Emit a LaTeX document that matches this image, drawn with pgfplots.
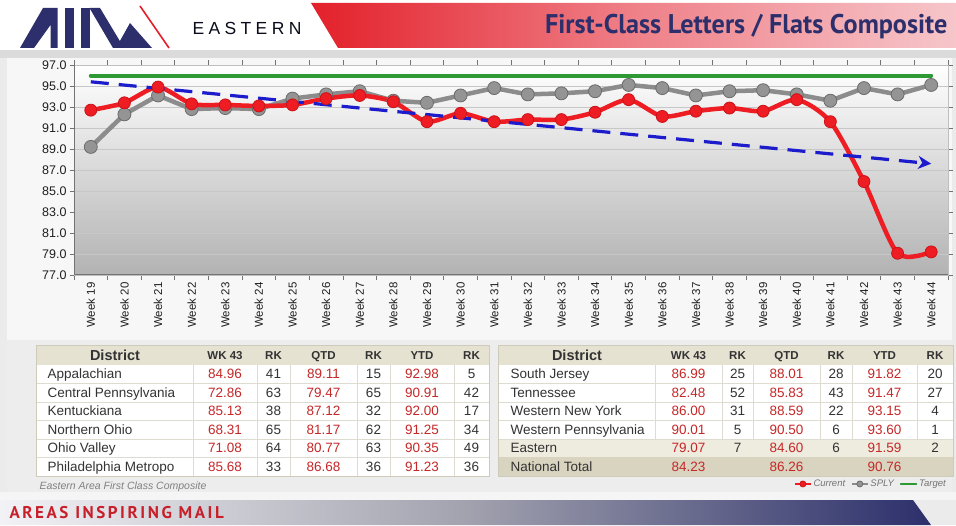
\documentclass[border=0pt]{standalone}
\usepackage{pgfplots}
\pgfplotsset{compat=1.18}
\usepackage{fontspec}
\setmainfont{Liberation Sans}
\newfontfamily\titlefont[FakeStretch=0.97]{PT Sans}
\newfontfamily\eastfont[LetterSpace=25]{Liberation Sans}
\newfontfamily\footfont[LetterSpace=15]{PT Sans}
\usetikzlibrary{arrows.meta}

\definecolor{navy}{HTML}{2C2F6B}
\definecolor{curred}{HTML}{EE1D23}
\definecolor{curedge}{HTML}{C8141A}
\definecolor{valred}{HTML}{C62828}
\definecolor{splyline}{HTML}{8C8C8C}
\definecolor{splymark}{HTML}{949494}
\definecolor{splyedge}{HTML}{6B6B6B}
\definecolor{targetgreen}{HTML}{2E9A34}
\definecolor{trendblue}{HTML}{1C1CCC}
\definecolor{hdrbeige}{HTML}{E6E2D2}
\definecolor{eastbeige}{HTML}{EEEBDF}
\definecolor{natbeige}{HTML}{D9D4BF}
\definecolor{tborder}{HTML}{CFCBBA}
\definecolor{tgrid}{HTML}{DEDBD0}
\definecolor{txt}{HTML}{333333}
\definecolor{bannerred}{HTML}{E3202A}
\definecolor{bannermid}{HTML}{EF8088}
\definecolor{bannerpink}{HTML}{F6C6CA}
\definecolor{footred}{HTML}{C8202A}

\newcommand\fs[1]{\fontsize{#1}{#1}\selectfont}

% row: #1 baseline y, #2 name x, #3 name, #4..#9 values
\newcommand\trow[9]{%
  \node[anchor=base west,text=txt,font=\fs{13.5}] at (#2,#1) {#3};
  \node[anchor=base,text=valred,font=\fs{13.5}] at (\cA,#1) {#4};
  \node[anchor=base,text=txt,font=\fs{13.5}] at (\cB,#1) {#5};
  \node[anchor=base,text=valred,font=\fs{13.5}] at (\cC,#1) {#6};
  \node[anchor=base,text=txt,font=\fs{13.5}] at (\cD,#1) {#7};
  \node[anchor=base,text=valred,font=\fs{13.5}] at (\cE,#1) {#8};
  \node[anchor=base,text=txt,font=\fs{13.5}] at (\cF,#1) {#9};
}
\newcommand\thead[1]{%
  \node[anchor=base,text=txt,font=\bfseries\fs{14.5}] at (#1,360.2) {District};
  \node[anchor=base,text=txt,font=\bfseries\fs{11.5}] at (\cA,359.2) {WK 43};
  \node[anchor=base,text=txt,font=\bfseries\fs{11.5}] at (\cB,359.2) {RK};
  \node[anchor=base,text=txt,font=\bfseries\fs{11.5}] at (\cC,359.2) {QTD};
  \node[anchor=base,text=txt,font=\bfseries\fs{11.5}] at (\cD,359.2) {RK};
  \node[anchor=base,text=txt,font=\bfseries\fs{11.5}] at (\cE,359.2) {YTD};
  \node[anchor=base,text=txt,font=\bfseries\fs{11.5}] at (\cF,359.2) {RK};
}

\begin{document}
\begin{tikzpicture}
\path[use as bounding box] (0,0) rectangle (956pt,525pt);
\fill[black!8] (0,0) rectangle (956pt,525pt);
\begin{scope}[yshift=525pt, x=1pt, y=-1pt]
  % header
  \fill[white] (0,0) rectangle (956,50);
  \fill[black!14] (0,50) rectangle (956,58);
  \fill[black!3] (7,58) rectangle (952,340);
  \fill[black!7] (7,340) rectangle (952,492);
  \fill[white!96!black] (0,492) rectangle (956,500);
  % banner
  \shade[left color=bannerred, right color=bannerpink, middle color=bannermid]
    (311,3) -- (956,3) -- (956,48) -- (338,48) -- cycle;
  \node[anchor=base east, text=navy, font=\titlefont\bfseries\fs{27}] at (951,34) {First-Class Letters / Flats Composite};
  % logo
  \fill[navy] (20,48) -- (43,8) -- (57.5,8) -- (57.5,48) -- (50.5,48) -- (50.5,25) -- (34,48) -- cycle;
  \fill[navy] (64.5,8) rectangle (73.5,48);
  \fill[navy] (80.5,8) rectangle (89.5,48);
  \fill[navy] (89.5,8) -- (100,8) -- (124,48) -- (113,48) -- cycle;
  \fill[navy] (116,48) -- (130,23) -- (152,48) -- cycle;
  \draw[bannerred, line width=1.6pt] (140,6) -- (169,48);
  \node[anchor=base west, text=black!75!navy, font=\eastfont\fs{17.5}] at (189,35) {EASTERN};
  % footer
  \shade[left color=white!94!navy, right color=navy, middle color=black!25!white!80!navy]
    (0,500) -- (913,500) -- (931,525) -- (0,525) -- cycle;
  \node[anchor=base west, text=footred, font=\footfont\bfseries\fs{17}] at (6,518) {AREAS INSPIRING MAIL};
\end{scope}

\begin{axis}[
  at={(74pt,250pt)}, anchor=south west,
  scale only axis, width=874pt, height=210pt,
  xmin=-0.5, xmax=25.5, ymin=77, ymax=97,
  ytick={77,79,...,97},
  minor ytick={77,79,...,97},
  /pgf/number format/assume math mode=true,
  yticklabel style={/pgf/number format/fixed, /pgf/number format/fixed zerofill, /pgf/number format/precision=1, font=\fs{12.5}, text=black!88},
  yticklabel shift=4pt,
  xtick={0,1,...,25},
  xticklabels={Week 19,Week 20,Week 21,Week 22,Week 23,Week 24,Week 25,Week 26,Week 27,Week 28,Week 29,Week 30,Week 31,Week 32,Week 33,Week 34,Week 35,Week 36,Week 37,Week 38,Week 39,Week 40,Week 41,Week 42,Week 43,Week 44},
  minor xtick={-0.5,0.5,...,25.5},
  xticklabel style={rotate=90, anchor=east, font=\fs{11.5}, text=black!88},
  xticklabel shift=4pt,
  tick align=outside, major tick length=0pt, minor tick length=4.5pt,
  tick style={black!55, line width=0.8pt},
  ymajorgrids, grid style={black!22, line width=0.6pt},
  axis line style={black!25, line width=0.8pt},
  axis background/.style={top color=white, bottom color=black!30},
  reverse legend,
  legend columns=3,
  legend style={draw=none, fill=none, at={(1,-0.995)}, anchor=east, inner sep=0pt,
    font=\itshape\fs{9.5}, text=black!55, /tikz/every even column/.append style={column sep=4pt}},
  legend image code/.code={\draw[mark repeat=2,mark phase=2,#1] plot coordinates {(0pt,0pt) (8pt,0pt) (16pt,0pt)};},
  legend image post style={line width=1.3pt, mark size=3pt},
  clip=false,
]
\addplot[targetgreen, line width=4pt, line cap=round] coordinates {(0,96) (25,96)};
\addlegendentry{Target}
\addplot[splyline, line width=4.5pt, mark=*, mark size=6.5pt,
  mark options={fill=splymark, draw=splyedge, line width=0.8pt}] coordinates {
(0,89.2) (1,92.3) (2,94.1) (3,92.8) (4,92.9) (5,92.8) (6,93.8) (7,94.2) (8,94.5) (9,93.6)
(10,93.4) (11,94.1) (12,94.8) (13,94.2) (14,94.3) (15,94.5) (16,95.1) (17,94.8) (18,94.1)
(19,94.5) (20,94.6) (21,94.2) (22,93.6) (23,94.8) (24,94.2) (25,95.1)};
\addlegendentry{SPLY}
\addplot[curred, line width=4.5pt, smooth, tension=0.45, mark=*, mark size=6pt,
  mark options={fill=curred, draw=curedge, line width=0.8pt}] coordinates {
(0,92.7) (1,93.4) (2,94.9) (3,93.3) (4,93.2) (5,93.1) (6,93.2) (7,93.8) (8,94.1) (9,93.5)
(10,91.6) (11,92.4) (12,91.6) (13,91.8) (14,91.8) (15,92.5) (16,93.7) (17,92.1) (18,92.6)
(19,92.9) (20,92.6) (21,93.7) (22,91.6) (23,85.9) (24,79.07) (25,79.2)};
\addlegendentry{Current}
\addplot[trendblue, line width=3.2pt, dash pattern=on 18pt off 10pt,
  -{Stealth[length=13pt, width=13pt, inset=4pt]}, forget plot] coordinates {(0,95.4) (25,87.6)};
\draw[black!55, line width=1pt] (rel axis cs:0,1) -- (rel axis cs:0,0) -- (rel axis cs:1,0);
\end{axis}

\begin{scope}[yshift=525pt, x=1pt, y=-1pt]
  % left table
  \fill[hdrbeige] (36,345) rectangle (489,365);
  \fill[white] (36,365) rectangle (489,476);
  \foreach \yy in {383.5,402,420.5,439,457.5} \draw[tgrid, line width=0.8pt] (36,\yy) -- (489,\yy);
  \foreach \xx in {193,257,290,357,390,454} \draw[tgrid, line width=0.8pt] (\xx,365) -- (\xx,476);
  \draw[tborder, line width=0.8pt] (36,345) rectangle (489,476);
  \def\cA{225}\def\cB{273.5}\def\cC{323.5}\def\cD{373.5}\def\cE{422}\def\cF{471.5}
  \thead{115}
  \trow{379}{44}{Appalachian}{84.96}{41}{89.11}{15}{92.98}{5}
  \trow{397.5}{44}{Central Pennsylvania}{72.86}{63}{79.47}{65}{90.91}{42}
  \trow{416}{44}{Kentuckiana}{85.13}{38}{87.12}{32}{92.00}{17}
  \trow{434.5}{44}{Northern Ohio}{68.31}{65}{81.17}{62}{91.25}{34}
  \trow{453}{44}{Ohio Valley}{71.08}{64}{80.77}{63}{90.35}{49}
  \trow{471.5}{44}{Philadelphia Metropo}{85.68}{33}{86.68}{36}{91.23}{36}
  \node[anchor=base west, text=black!50, font=\itshape\fs{10.5}] at (36,489) {Eastern Area First Class Composite};
  % right table
  \fill[hdrbeige] (498,345) rectangle (953,365);
  \fill[white] (498,365) rectangle (953,439);
  \fill[eastbeige] (498,439) rectangle (953,457.5);
  \fill[natbeige] (498,457.5) rectangle (953,476);
  \foreach \yy in {383.5,402,420.5,439} \draw[tgrid, line width=0.8pt] (498,\yy) -- (953,\yy);
  \foreach \xx in {655,722,753,820,852,917} \draw[tgrid, line width=0.8pt] (\xx,365) -- (\xx,439);
  \draw[tborder, line width=0.8pt] (498,345) rectangle (953,476);
  \def\cA{688.5}\def\cB{737.5}\def\cC{786.5}\def\cD{836}\def\cE{884.5}\def\cF{935}
  \thead{577}
  \trow{379}{507}{South Jersey}{86.99}{25}{88.01}{28}{91.82}{20}
  \trow{397.5}{507}{Tennessee}{82.48}{52}{85.83}{43}{91.47}{27}
  \trow{416}{507}{Western New York}{86.00}{31}{88.59}{22}{93.15}{4}
  \trow{434.5}{507}{Western Pennsylvania}{90.01}{5}{90.50}{6}{93.60}{1}
  \trow{453}{507}{Eastern}{79.07}{7}{84.60}{6}{91.59}{2}
  \trow{471.5}{507}{National Total}{84.23}{}{86.26}{}{90.76}{}
\end{scope}
\end{tikzpicture}
\end{document}
